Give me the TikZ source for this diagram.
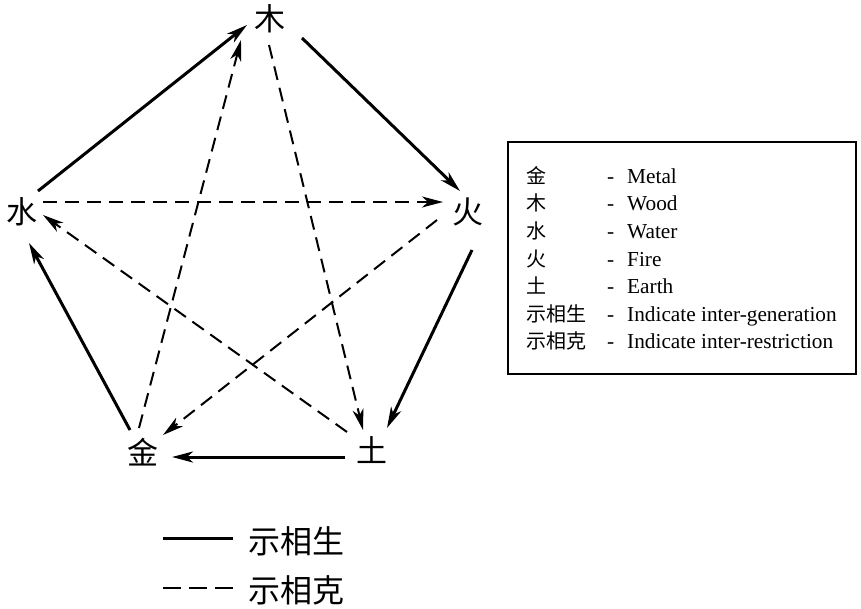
\documentclass[tikz,border=0pt]{standalone}
\usepackage{fontspec}
\setmainfont{Liberation Serif}
\newfontfamily\cjk{Noto Sans CJK SC}
\usetikzlibrary{arrows.meta,calc}
\begin{document}
\begin{tikzpicture}[x=1pt,y=-1pt,
  elem/.style={font=\cjk\fontsize{31}{31}\selectfont, inner sep=0pt},
  tipstyle/.style={-{Stealth[length=21pt,width=11pt,inset=6pt]}},
  gen/.style={line width=3pt, tipstyle},
  res/.style={line width=2pt, dash pattern=on 14pt off 8pt, tipstyle},
  lgtxt/.style={font=\fontsize{21.3}{21.3}\selectfont, anchor=base west, inner sep=0pt},
  lgcjk/.style={font=\cjk\fontsize{20}{20}\selectfont, anchor=base west, inner sep=0pt},
  keytxt/.style={font=\cjk\fontsize{32}{32}\selectfont, anchor=west, inner sep=0pt}]
\useasboundingbox (0,0) rectangle (861,608);

% elements
\node[elem] (mu)   at (270,19)  {木};
\node[elem] (huo)  at (468,212) {火};
\node[elem] (tu)   at (372,450) {土};
\node[elem] (jin)  at (143,452) {金};
\node[elem] (shui) at (22,212)  {水};

% generation (solid)
\draw[gen] ($(shui)+(16,-21)$) -- ($(mu)+(-23,6)$);
\draw[gen] ($(mu)+(32,19)$) -- ($(huo)+(-8,-21)$);
\draw[gen] ($(huo)+(4,38)$) -- ($(tu)+(15,-22)$);
\draw[gen] ($(tu)+(-27,7)$) -- ($(jin)+(29,5)$);
\draw[gen] ($(jin)+(-13,-22)$) -- ($(shui)+(7,31)$);

% restriction (dashed)
\draw[res] ($(shui)+(21,-10)$) -- ($(huo)+(-25,-10)$);
\draw[res] ($(huo)+(-31,8)$) -- ($(jin)+(20,-17)$);
\draw[res] ($(jin)+(-4,-24)$) -- ($(mu)+(-29,21)$);
\draw[res] ($(mu)+(-1,26)$) -- ($(tu)+(-9,-20)$);
\draw[res] ($(tu)+(-25,-18)$) -- ($(shui)+(21,3)$);

% legend box
\node[draw, line width=1.6pt, minimum width=348pt, minimum height=232pt, inner sep=0pt] (box) at (682,258) {};
\foreach \c/\t/\y [count=\i] in {金/Metal/183.3, 木/Wood/210.9, 水/Water/238.5, 火/Fire/266.1, 土/Earth/293.7, 示相生/Indicate inter-generation/321.3, 示相克/Indicate inter-restriction/348.9}{
  \node[lgcjk] (c\i) at (526,\y) {\c};
  \node[lgtxt] (d\i) at (607,\y) {-};
  \node[lgtxt] (t\i) at (627,\y) {\t};
}

% key below
\coordinate (sa) at (163,538);
\coordinate (sb) at (233,538);
\draw[line width=3pt] (sa) -- (sb);
\node[keytxt] (k1) at (248,541) {示相生};
\coordinate (da) at (163,588);
\coordinate (db) at (233,588);
\draw[line width=2pt, dash pattern=on 18pt off 8pt] (da) -- (db);
\node[keytxt] (k2) at (248,590) {示相克};
\end{tikzpicture}
\end{document}
